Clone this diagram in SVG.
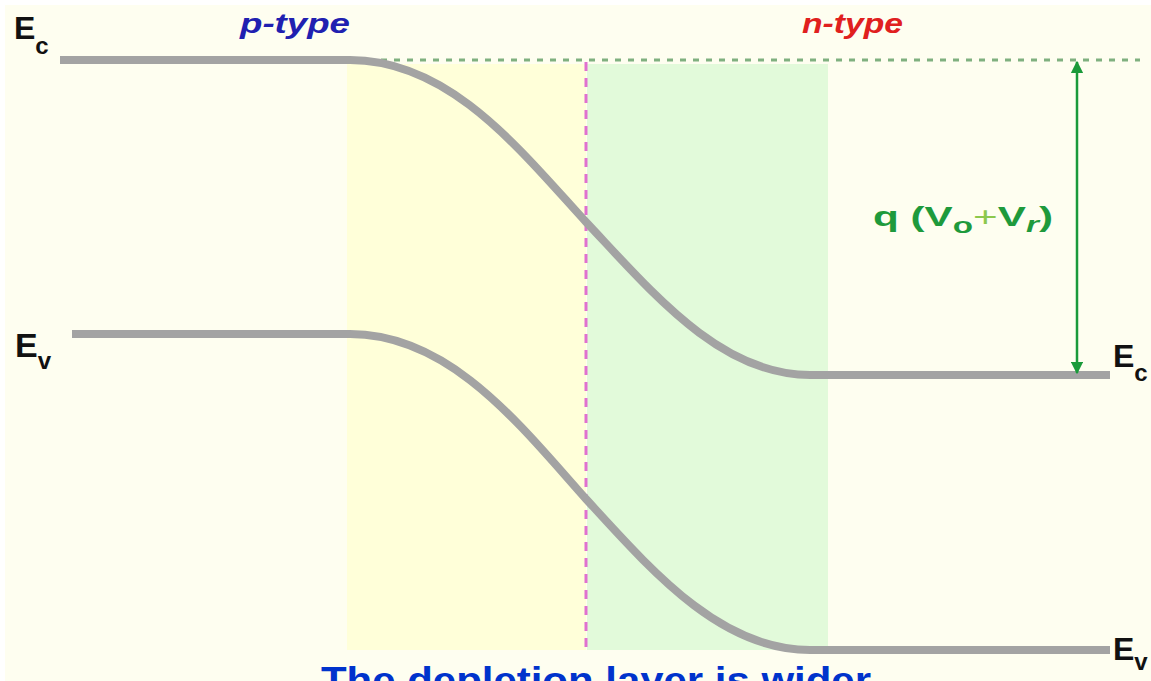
<svg xmlns="http://www.w3.org/2000/svg" width="1151" height="681" viewBox="0 0 1151 681">
<style>
.band{stroke:#A3A3A3;stroke-width:8;fill:none;stroke-linecap:butt}
.lbl{font-family:"Liberation Sans",Arial,sans-serif;font-weight:bold;fill:#111}
.type{font-family:"Liberation Sans",Arial,sans-serif;font-weight:bold;font-style:italic;font-size:28px}
.q{font-family:"Liberation Sans",Arial,sans-serif;font-weight:bold;fill:#1E9A3C}
</style>
<defs>
<marker id="ah" viewBox="0 0 10 10" refX="9" refY="5" markerWidth="5" markerHeight="5" orient="auto-start-reverse">
<path d="M0,0 L10,5 L0,10 z" fill="#1A9A3A"/>
</marker>
</defs>
<rect x="0" y="0" width="1151" height="681" fill="#FFFFFF"/>
<rect x="5" y="5" width="1146" height="676" fill="#FEFEF0"/>
<g id="regions">
<rect x="347" y="64" width="239" height="586" fill="#FFFFD9"/>
<rect x="587" y="64" width="241" height="586" fill="#E2FADA"/>
</g>
<g id="connectors">
<line x1="95" y1="60" x2="1140" y2="60" stroke="#7FB07F" stroke-width="3" stroke-dasharray="6,7"/>
<line x1="586" y1="62" x2="586" y2="650" stroke="#E070D0" stroke-width="3" stroke-dasharray="9,7"/>
<path id="ec" class="band" d="M60,60 L350,60 C450,60 520,150 586,222 C652,292 720,375 810,375 L1110,375"/>
<path id="ev" class="band" d="M72,334 L350,334 C450,334 520,425 586,499 C652,571 720,650 810,650 L1110,650"/>
<line x1="1077" y1="62" x2="1077" y2="373" stroke="#1A9A3A" stroke-width="2.5" marker-start="url(#ah)" marker-end="url(#ah)"/>
</g>
<g id="labels">
<text class="lbl" x="14" y="39" font-size="32">E<tspan font-size="24" dy="15">c</tspan></text>
<text class="lbl" x="15" y="357" font-size="34">E<tspan font-size="24" dy="12">v</tspan></text>
<text class="lbl" x="1113" y="367" font-size="32">E<tspan font-size="24" dy="14">c</tspan></text>
<text class="lbl" x="1113" y="660" font-size="32">E<tspan font-size="24" dy="10">v</tspan></text>
<text class="type" x="240" y="33" fill="#2020B0" textLength="110" lengthAdjust="spacingAndGlyphs">p-type</text>
<text class="type" x="802" y="33" fill="#E0201E" textLength="101" lengthAdjust="spacingAndGlyphs">n-type</text>
<text class="q" x="873" y="226" font-size="28" textLength="180" lengthAdjust="spacingAndGlyphs">q (V<tspan font-size="22" dy="7">o</tspan><tspan dy="-7" fill="#8CC84C" font-weight="normal">+</tspan>V<tspan font-size="22" dy="6" font-style="italic">r</tspan><tspan dy="-6">)</tspan></text>
<text x="321" y="693" font-family="Liberation Sans,Arial,sans-serif" font-weight="bold" font-size="36" fill="#0033CC" textLength="550" lengthAdjust="spacingAndGlyphs">The depletion layer is wider</text>
</g>
</svg>
